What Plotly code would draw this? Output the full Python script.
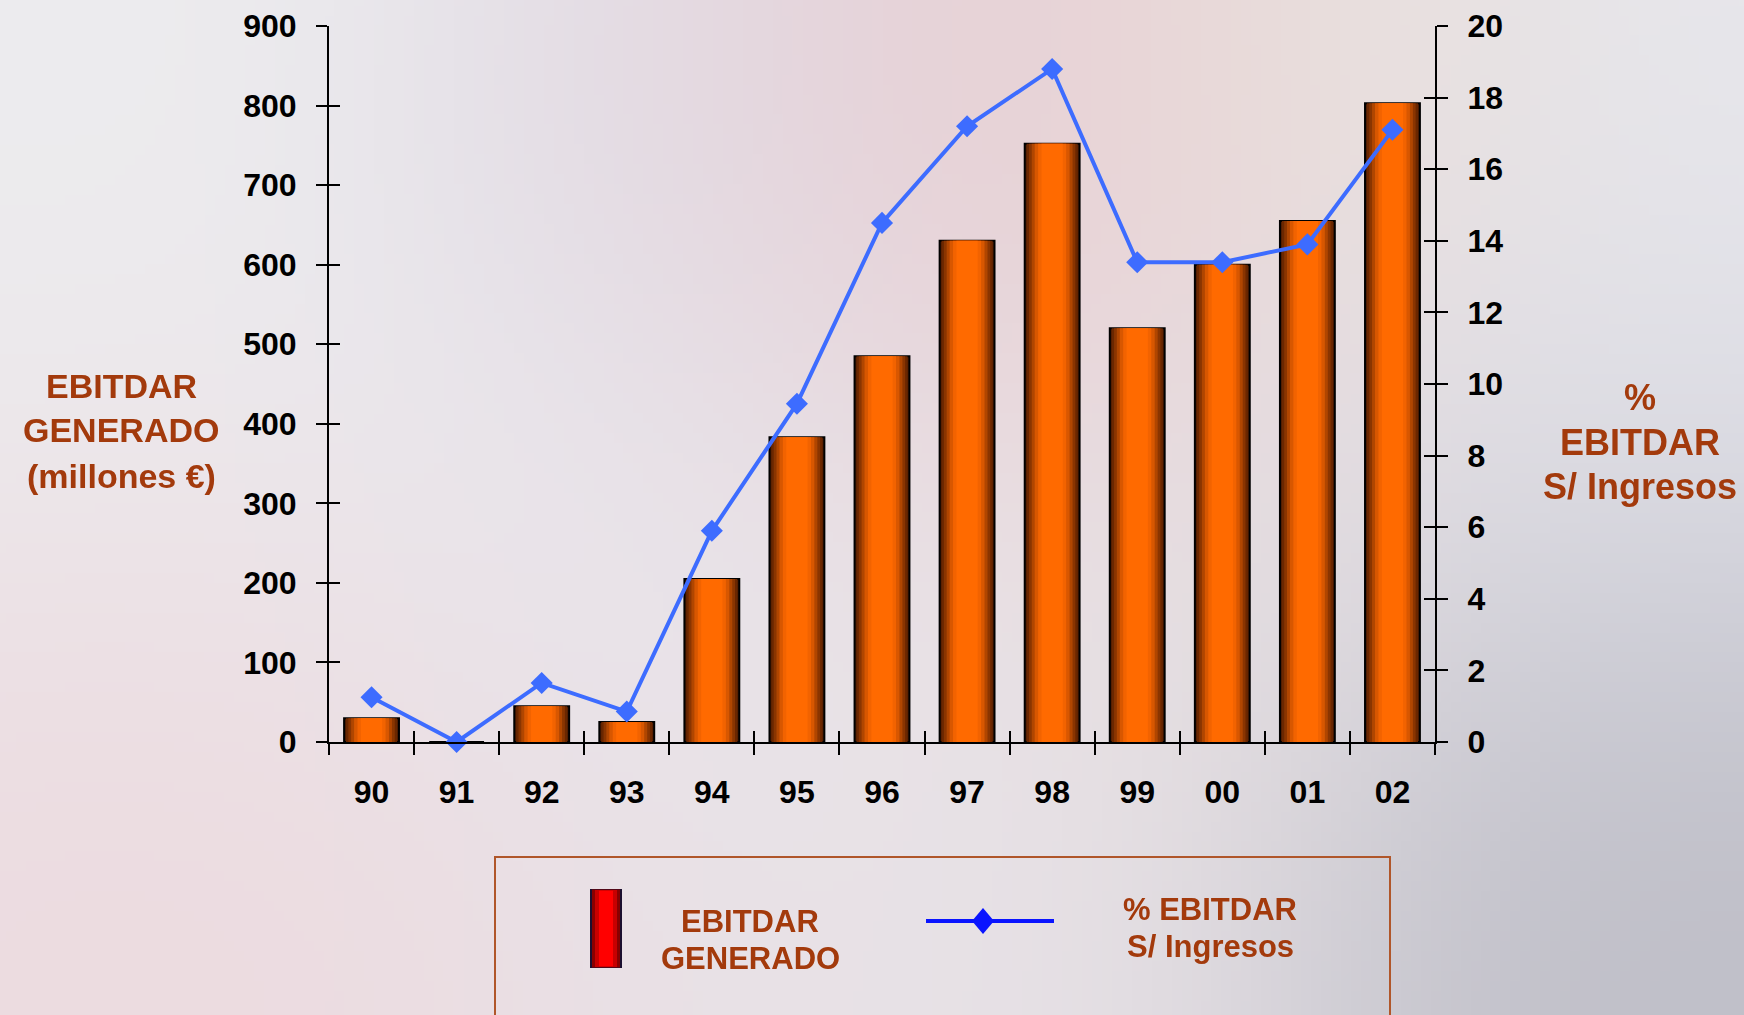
import base64
import struct
import zlib

import numpy as np
import plotly.graph_objects as go

# ---- data -------------------------------------------------------------
years = ["90", "91", "92", "93", "94", "95", "96", "97", "98", "99", "00", "01", "02"]
ebitdar_meur = [30, 0, 45, 25, 205, 383, 485, 630, 752, 520, 600, 655, 803]
ebitdar_pct = [1.25, 0.0, 1.65, 0.85, 5.9, 9.45, 14.5, 17.2, 18.8, 13.4, 13.4, 13.9, 17.1]

left_ticks = list(range(0, 901, 100))
right_ticks = list(range(0, 21, 2))

# ---- page geometry ----------------------------------------------------
W, H = 1744, 1015
L, R, T, B = 329, 309, 26, 273
PW, PH = W - L - R, H - T - B

FONT = "Liberation Sans, Arial, Helvetica, sans-serif"
BROWN = "#a33a0c"
BLUE = "#3d6cff"


def xp(px):
    return (px - L) / PW


def yp(py):
    return 1 - (py - T) / PH


def png_uri(arr):
    h, w, _ = arr.shape
    raw = b"".join(b"\x00" + arr[r].tobytes() for r in range(h))

    def chunk(tag, data):
        return (struct.pack(">I", len(data)) + tag + data
                + struct.pack(">I", zlib.crc32(tag + data) & 0xFFFFFFFF))

    ihdr = struct.pack(">IIBBBBB", w, h, 8, 2, 0, 0, 0)
    png = (b"\x89PNG\r\n\x1a\n" + chunk(b"IHDR", ihdr)
           + chunk(b"IDAT", zlib.compress(raw, 9)) + chunk(b"IEND", b""))
    return "data:image/png;base64," + base64.b64encode(png).decode()


# soft, mottled slide background
step = 10
gx, gy = np.meshgrid((np.arange(W // step + 1) + 0.5) * step,
                     (np.arange(H // step + 1) + 0.5) * step)
base = np.array([231, 229, 235], float)
blobs = [
    ((150, 150), 350, (239, 239, 240), 0.8),
    ((650, 110), 190, (220, 214, 226), 0.7),
    ((1000, 140), 240, (232, 198, 203), 1.0),
    ((1290, 80), 170, (235, 227, 217), 0.7),
    ((1660, 160), 250, (233, 233, 237), 0.6),
    ((1700, 940), 260, (178, 178, 188), 1.0),
    ((1650, 520), 250, (215, 217, 227), 0.5),
    ((180, 900), 300, (239, 215, 219), 0.8),
    ((700, 500), 300, (232, 232, 240), 0.5),
    ((1150, 560), 250, (236, 225, 222), 0.4),
    ((900, 960), 300, (232, 224, 228), 0.5),
]
wsum = np.full(gx.shape, 0.3)
acc = base[None, None, :] * wsum[..., None]
for (cx, cy), sig, col, s in blobs:
    wgt = s * np.exp(-((gx - cx) ** 2 + (gy - cy) ** 2) / (2 * sig ** 2))
    acc += wgt[..., None] * np.array(col, float)[None, None, :]
    wsum += wgt
bg = np.clip(acc / wsum[..., None], 0, 255).astype(np.uint8)

fig = go.Figure()

# cylinder-like bars: nested bars from dark rim to bright core
bar_layers = [
    (0.645, "#4f1c00"),
    (0.60, "#6a2700"),
    (0.545, "#8a3500"),
    (0.48, "#b04600"),
    (0.41, "#d85700"),
    (0.33, "#f26300"),
    (0.25, "#ff6a00"),
]
for i, (w, c) in enumerate(bar_layers):
    fig.add_trace(go.Bar(
        x=years, y=ebitdar_meur, width=w,
        marker=dict(color=c, line=dict(color="black", width=2 if i == 0 else 0)),
        hoverinfo="skip" if i else "x+y", showlegend=False,
    ))

fig.add_trace(go.Scatter(
    x=years, y=ebitdar_pct, yaxis="y2", mode="lines+markers",
    line=dict(color=BLUE, width=4),
    marker=dict(symbol="diamond", size=17, color=BLUE),
    cliponaxis=False, showlegend=False,
))

# helper traces that carry the inward half of the crossing tick marks
fig.add_trace(go.Scatter(x=years, y=ebitdar_meur, xaxis="x2", yaxis="y3",
                         mode="markers", opacity=0, hoverinfo="skip", showlegend=False))
fig.add_trace(go.Scatter(x=years, y=ebitdar_pct, xaxis="x2", yaxis="y4",
                         mode="markers", opacity=0, hoverinfo="skip", showlegend=False))

tickfont = dict(family=FONT, size=32, color="black", weight="bold")
common_y = dict(showgrid=False, zeroline=False, tickcolor="black", tickwidth=2, ticklen=11)

fig.update_layout(
    width=W, height=H,
    margin=dict(l=L, r=R, t=T, b=B, autoexpand=False),
    paper_bgcolor="#e4e2e8", plot_bgcolor="rgba(0,0,0,0)",
    barmode="overlay",
    xaxis=dict(type="category", range=[-0.5, 12.5], tickson="boundaries",
               ticks="outside", ticklen=11, tickwidth=2, tickcolor="black",
               showline=True, linecolor="black", linewidth=2, showgrid=False,
               tickfont=tickfont, ticklabelstandoff=21),
    xaxis2=dict(type="category", range=[-0.5, 12.5], tickson="boundaries",
                overlaying="x", anchor="y", side="bottom",
                ticks="inside", ticklen=11, tickwidth=2, tickcolor="black",
                showline=False, showgrid=False, showticklabels=False),
    yaxis=dict(range=[0, 900], tickvals=left_ticks, ticks="outside",
               showline=True, linecolor="black", linewidth=2,
               tickfont=tickfont, ticklabelstandoff=13, **common_y),
    yaxis2=dict(range=[0, 20], tickvals=right_ticks, ticks="outside",
                overlaying="y", side="right", anchor="x",
                showline=True, linecolor="black", linewidth=2,
                tickfont=tickfont, ticklabelstandoff=13, **common_y),
    yaxis3=dict(range=[0, 900], tickvals=left_ticks, ticks="inside",
                overlaying="y", side="left", anchor="x2",
                showline=False, showticklabels=False, **common_y),
    yaxis4=dict(range=[0, 20], tickvals=right_ticks, ticks="inside",
                overlaying="y", side="right", anchor="x2",
                showline=False, showticklabels=False, **common_y),
    images=[dict(source=png_uri(bg), xref="paper", yref="paper",
                 x=xp(0), y=yp(0), sizex=W / PW, sizey=H / PH,
                 xanchor="left", yanchor="top", sizing="stretch",
                 layer="below")],
)

# axis titles
def label(text, cx, cy, size):
    fig.add_annotation(text=text, x=xp(cx), y=yp(cy), xref="paper", yref="paper",
                       showarrow=False, xanchor="center", yanchor="middle",
                       font=dict(family=FONT, size=size, color=BROWN, weight="bold"))


for txt, cy in [("EBITDAR", 386), ("GENERADO", 430), ("(millones €)", 476)]:
    label(txt, 121, cy, 34)
for txt, cy in [("%", 397), ("EBITDAR", 443), ("S/ Ingresos", 487)]:
    label(txt, 1640, cy, 36)

# legend panel
fig.add_shape(type="rect", xref="paper", yref="paper",
              x0=xp(495), x1=xp(1390), y0=yp(1040), y1=yp(857),
              line=dict(color="#b0562a", width=2), fillcolor="rgba(0,0,0,0)")
for (x0, x1, c) in [(590, 622, "#1c1030"), (592, 620, "#8a0000"),
                    (595, 617, "#c80000"), (599, 613, "#ff0000")]:
    fig.add_shape(type="rect", xref="paper", yref="paper",
                  x0=xp(x0), x1=xp(x1), y0=yp(968 - (x0 - 590) * 0.2),
                  y1=yp(889 + (x0 - 590) * 0.2),
                  line=dict(width=0), fillcolor=c)
fig.add_shape(type="line", xref="paper", yref="paper",
              x0=xp(926), x1=xp(1054), y0=yp(921), y1=yp(921),
              line=dict(color="#0a14ff", width=4))
dx, dy = 11, 13
fig.add_shape(type="path", xref="paper", yref="paper",
              path=(f"M {xp(983)} {yp(921 - dy)} L {xp(983 + dx)} {yp(921)} "
                    f"L {xp(983)} {yp(921 + dy)} L {xp(983 - dx)} {yp(921)} Z"),
              line=dict(width=0), fillcolor="#0a14ff")

for txt, cx, cy in [("EBITDAR", 750, 921), ("GENERADO", 750, 958),
                    ("% EBITDAR", 1210, 909), ("S/ Ingresos", 1210, 946)]:
    label(txt, cx, cy, 31)

fig.write_html("out.html")
